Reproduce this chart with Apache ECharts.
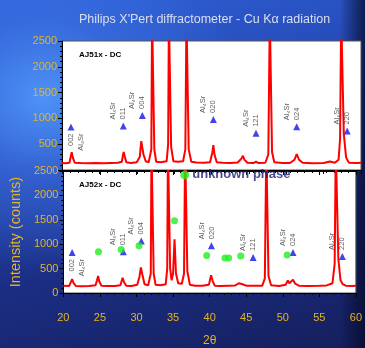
<!DOCTYPE html>
<html>
<head>
<meta charset="utf-8">
<script src="https://cdn.jsdelivr.net/npm/echarts@6/dist/echarts.min.js"></script>
<style>
html, body { margin: 0; padding: 0; }
#box {
  width: 365px;
  height: 348px;
  background:
    linear-gradient(90deg, rgba(5,10,40,0) 93%, rgba(5,10,40,0.75) 100%),
    radial-gradient(ellipse 55% 50% at 12% 28%, rgba(80,150,250,0.95) 0%, rgba(60,115,230,0.6) 45%, rgba(40,80,200,0) 100%),
    linear-gradient(165deg, #2e62d8 0%, #2648b4 35%, #1b2e84 65%, #151f5c 100%);
}
#main { width: 100%; height: 100%; }
</style>
</head>
<body>
<div id="box"><div id="main"></div></div>
<script>
// 2theta ticks
var xTicks = [20, 25, 30, 35, 40, 45, 50, 55, 60]

// AJ51x scan (2theta, counts)
var scanTop = [
  [20.0, 135], [20.5, 130], [21.0, 140], [21.15, 250], [21.3, 345], [21.45, 240], [21.7, 140],
  [22.5, 135], [23.5, 130], [24.5, 135], [25.5, 130], [26.5, 135], [27.5, 140],
  [28.0, 160], [28.15, 280], [28.25, 350], [28.4, 260], [28.6, 150], [29.2, 135],
  [30.0, 150], [30.4, 250], [30.6, 560], [30.75, 580], [30.9, 300], [31.2, 170], [31.6, 150],
  [31.95, 400], [32.05, 3000], [32.2, 3000], [32.35, 400], [32.6, 160], [33.2, 150],
  [34.0, 170], [34.2, 500], [34.3, 3000], [34.45, 3000], [34.6, 450], [34.9, 170],
  [35.5, 160], [36.2, 170], [36.5, 400], [36.65, 3000], [36.8, 3000], [36.95, 400], [37.3, 160],
  [38.0, 145], [39.0, 140], [39.8, 150], [40.1, 330], [40.25, 480], [40.4, 300], [40.7, 150],
  [41.5, 140], [42.5, 135], [43.5, 145], [44.0, 220], [44.2, 275], [44.4, 200], [44.8, 140],
  [45.6, 135], [45.95, 160], [46.3, 135], [47.2, 140], [47.6, 300], [47.8, 3000], [47.95, 3000],
  [48.1, 350], [48.4, 150], [49.5, 135], [50.5, 135], [51.1, 200], [51.4, 308], [51.7, 200],
  [52.2, 140], [53.5, 130], [55.0, 135], [55.85, 165], [56.5, 140], [57.0, 200], [57.2, 600],
  [57.35, 3000], [57.55, 3000], [57.7, 700], [58.0, 250], [58.15, 200], [58.4, 140],
  [59.5, 135], [60.0, 140]
]

// AJ52x scan (2theta, counts)
var scanBottom = [
  [20.0, 150], [20.8, 145], [21.05, 170], [21.2, 283], [21.4, 200], [21.7, 145],
  [22.5, 140], [23.5, 145], [24.4, 160], [24.6, 260], [24.75, 350], [24.9, 240], [25.2, 150],
  [26.0, 145], [27.0, 145], [27.8, 160], [28.0, 260], [28.1, 310], [28.3, 220], [28.6, 150],
  [29.3, 145], [30.1, 170], [30.4, 330], [30.6, 525], [30.8, 380], [31.1, 180], [31.6, 160],
  [31.95, 400], [32.05, 3000], [32.2, 3000], [32.35, 400], [32.6, 170], [33.3, 160],
  [34.0, 180], [34.2, 500], [34.3, 3000], [34.45, 3000], [34.6, 500], [34.8, 260],
  [35.0, 400], [35.2, 1100], [35.4, 400], [35.7, 200], [36.2, 190], [36.5, 400],
  [36.65, 3000], [36.8, 3000], [36.95, 450], [37.3, 170], [38.0, 150], [39.0, 150],
  [39.9, 170], [40.1, 300], [40.2, 365], [40.4, 250], [40.7, 150], [41.5, 145], [42.5, 150],
  [43.5, 155], [44.0, 200], [44.25, 240], [44.5, 180], [45.0, 150], [45.7, 150], [45.95, 190],
  [46.3, 150], [47.2, 150], [47.55, 300], [47.75, 3000], [47.9, 3000], [48.05, 350], [48.4, 160],
  [49.5, 145], [50.4, 170], [50.7, 255], [50.9, 200], [51.4, 270], [51.7, 190], [52.2, 150],
  [53.5, 145], [55.0, 150], [56.0, 155], [56.8, 200], [57.1, 600], [57.25, 3000], [57.45, 3000],
  [57.6, 700], [57.9, 260], [58.2, 180], [58.6, 150], [59.5, 145], [60.0, 150]
]

// reflection markers (blue triangles)
var hkl = ['002', '011', '004', '020', '121', '024', '220']
var phaseName = 'Al\u2084Sr'
var refTop = [[21.2, 833], [28.2, 852], [30.75, 1058], [40.25, 980], [45.95, 711], [51.4, 840], [58.15, 756]]
var refBottom = [[21.2, 830], [28.2, 843], [30.66, 1065], [40.25, 970], [45.95, 730], [51.4, 830], [58.15, 750]]

// unknown phase (green dots, bottom panel)
var unknownPts = [[24.8, 843], [27.9, 890], [30.35, 970], [35.2, 1480], [39.6, 767], [42.1, 716], [42.6, 716], [44.25, 760], [50.6, 780]]
var unknownKey = [[36.6, 2420]]

var gold = '#e6b422'

function refData(pts) {
  return pts.map(function (p, i) {
    var first = i === 0
    return {
      value: p,
      label: {
        show: true,
        rotate: 90,
        position: first ? 'bottom' : 'top',
        align: first ? 'right' : 'left',
        verticalAlign: 'middle',
        distance: 3,
        // offset is in the rotated frame: y moves across the text lines
        offset: first ? [0, 5] : [0, -5],
        lineHeight: 10,
        fontSize: 7.5,
        fontFamily: 'Arial',
        color: '#333',
        formatter: first ? hkl[i] + '\n' + phaseName : phaseName + '\n' + hkl[i],
      },
    }
  })
}

function yAxisCfg(grid, hideZero) {
  return {
    type: 'value',
    gridIndex: grid,
    min: 0,
    max: 2500,
    interval: 500,
    axisLine: { show: true, lineStyle: { color: '#000', width: 1 } },
    axisTick: { show: true, length: 4, lineStyle: { color: '#000' } },
    minorTick: { show: true, splitNumber: 5, length: 2, lineStyle: { color: '#000' } },
    splitLine: { show: false },
    axisLabel: {
      color: gold,
      fontSize: 11,
      fontFamily: 'Arial',
      margin: 5,
      formatter: function (v) { return hideZero && v === 0 ? '' : v },
    },
  }
}

function xAxisCfg(grid, pos, labels) {
  return {
    type: 'value',
    gridIndex: grid,
    position: pos,
    min: xTicks[0],
    max: xTicks[xTicks.length - 1],
    interval: 5,
    axisLine: { show: true, onZero: false, lineStyle: { color: '#000', width: 1 } },
    axisTick: { show: true, inside: pos === 'top', length: 4, lineStyle: { color: '#000' } },
    minorTick: { show: true, splitNumber: 5, length: 2, lineStyle: { color: '#000' } },
    splitLine: { show: false },
    axisLabel: { show: labels, color: gold, fontSize: 11, fontFamily: 'Arial', margin: 19 },
  }
}

var chartDom = echarts.init(document.getElementById('main'))
var xBottom = xAxisCfg(1, 'bottom', true)
xBottom.name = '2\u03b8'
xBottom.nameLocation = 'middle'
xBottom.nameGap = 42
xBottom.nameTextStyle = { color: gold, fontSize: 12, fontFamily: 'Arial' }

var yBottom = yAxisCfg(1, false)
yBottom.name = 'Intensity (counts)'
yBottom.nameLocation = 'middle'
yBottom.nameGap = 35
yBottom.nameTextStyle = { color: gold, fontSize: 14.5, fontFamily: 'Arial' }

var option = {
  backgroundColor: 'transparent',
  animation: false,
  title: [
    {
      text: "Philips X'Pert diffractometer - Cu K\u03b1 radiation",
      left: 74,
      top: 8,
      textStyle: { color: '#dcdff0', fontSize: 12.5, fontWeight: 'normal', fontFamily: 'Arial' },
    },
    {
      text: 'AJ51x - DC',
      left: 74,
      top: 46,
      textStyle: { color: '#000', fontSize: 8, fontWeight: 'bold', fontFamily: 'Arial' },
    },
    {
      text: 'AJ52x - DC',
      left: 74,
      top: 176,
      textStyle: { color: '#000', fontSize: 8, fontWeight: 'bold', fontFamily: 'Arial' },
    },
  ],
  grid: [
    { left: 62, top: 41, width: 299, height: 129, show: true, backgroundColor: '#fff', borderColor: '#555', borderWidth: 1 },
    { left: 62, top: 171, width: 299, height: 131, show: true, backgroundColor: '#fff', borderColor: '#555', borderWidth: 1 },
  ],
  xAxis: [xAxisCfg(0, 'bottom', false), xBottom, xAxisCfg(1, 'top', false)],
  yAxis: [yAxisCfg(0, true), yBottom],
  series: [
    {
      type: 'line',
      xAxisIndex: 0,
      yAxisIndex: 0,
      data: scanTop,
      showSymbol: false,
      clip: true,
      lineStyle: { color: '#ff0000', width: 2 },
      z: 2,
    },
    {
      type: 'line',
      xAxisIndex: 1,
      yAxisIndex: 1,
      data: scanBottom,
      showSymbol: false,
      clip: true,
      lineStyle: { color: '#ff0000', width: 2 },
      z: 2,
    },
    {
      type: 'scatter',
      xAxisIndex: 0,
      yAxisIndex: 0,
      symbol: 'triangle',
      symbolSize: 7,
      itemStyle: { color: '#1414e6' },
      data: refData(refTop),
      z: 3,
    },
    {
      type: 'scatter',
      xAxisIndex: 1,
      yAxisIndex: 1,
      symbol: 'triangle',
      symbolSize: 7,
      itemStyle: { color: '#1414e6' },
      data: refData(refBottom),
      z: 3,
    },
    {
      type: 'scatter',
      xAxisIndex: 1,
      yAxisIndex: 1,
      symbol: 'circle',
      symbolSize: 7,
      itemStyle: { color: '#22ee22' },
      data: unknownPts,
      z: 4,
    },
    {
      type: 'scatter',
      xAxisIndex: 1,
      yAxisIndex: 1,
      symbol: 'circle',
      symbolSize: 9,
      itemStyle: { color: '#22ee22' },
      data: unknownKey,
      label: {
        show: true,
        position: 'right',
        distance: 3,
        formatter: 'unknown phase',
        color: '#1a1a70',
        fontSize: 13,
        fontWeight: 'bold',
        fontFamily: 'Arial',
      },
      z: 4,
    },
  ],
}
chartDom.setOption(option)
</script>
</body>
</html>
